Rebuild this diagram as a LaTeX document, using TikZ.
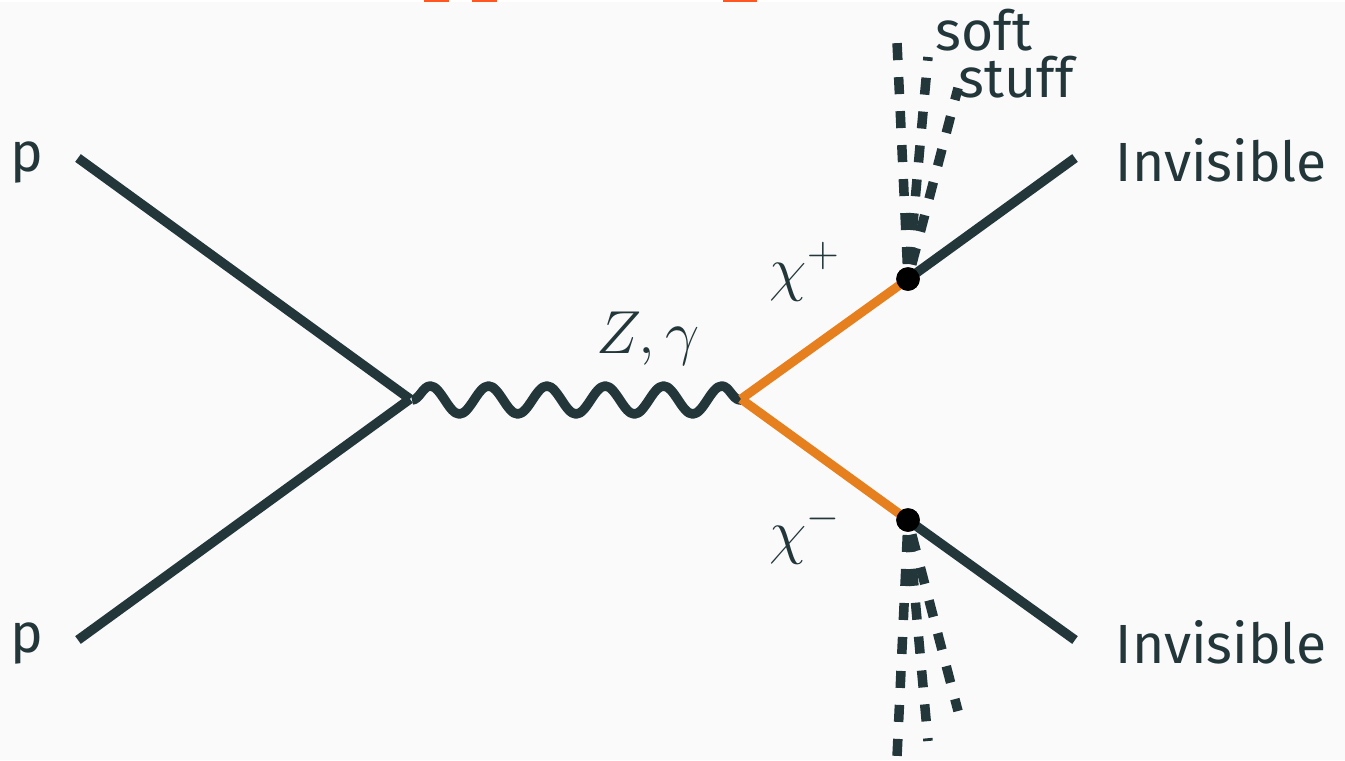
\documentclass[tikz,border=0pt]{standalone}
\usepackage{fontspec}
\setmainfont{Fira Sans}
\usetikzlibrary{decorations.pathmorphing}
\definecolor{darkteal}{HTML}{23373B}
\definecolor{lineorange}{HTML}{E6801F}
\definecolor{pagegrey}{HTML}{FAFAFA}
\definecolor{markred}{HTML}{FF5722}

\begin{document}
\begin{tikzpicture}[
    x=0.01cm, y=-0.01cm,
    % --- STYLES ---
    fermion/.style={draw=darkteal, line width=0.095cm},
    chargino/.style={draw=lineorange, line width=0.09cm},
    boson/.style={draw=darkteal, line width=0.095cm, line join=round,
        decorate, decoration={snake, segment length=0.583cm, amplitude=0.14cm}},
    softline/.style={draw=darkteal, line width=0.095cm,
        dash pattern=on 0.17cm off 0.17cm, dash phase=0.19cm},
    vertexdot/.style={circle, fill=black, minimum size=0.235cm, inner sep=0pt},
    label/.style={text=darkteal, anchor=base west, inner sep=0pt, font=\fontsize{15.7}{19}\selectfont},
    mathlabel/.style={text=darkteal, anchor=base west, inner sep=0pt, font=\fontsize{18.5}{22}\selectfont}
]

% ===== 1. PAGE =====
\fill[pagegrey] (0,0) rectangle (1345,760);
\useasboundingbox (0,0) rectangle (1345,760);
\fill[white] (0,0) rectangle (1345,2);
\fill[markred] (424,0) rectangle (449,2);
\fill[markred] (472,0) rectangle (497,2);
\fill[markred] (723,0) rectangle (757,2);

% ===== 2. COORDINATES =====
\coordinate (inA) at (78,158);
\coordinate (inB) at (78,640);
\coordinate (prod) at (410,399);
\coordinate (waveIn) at (412,400);
\coordinate (waveOut) at (741,400);
\coordinate (decay) at (741,399);
\coordinate (outA) at (1075,158);
\coordinate (outB) at (1075,640);
\node[vertexdot] (chiP) at (908,279) {};
\node[vertexdot] (chiM) at (908,520) {};

\coordinate (softA1) at (897,42);
\coordinate (softA2) at (928,57);
\coordinate (softA3) at (958,88);
\coordinate (softB1) at (897,757);
\coordinate (softB2) at (928,741);
\coordinate (softB3) at (958,711);

% ===== 3. SOFT STUFF =====
\draw[softline] (chiP.center) -- (softA1);
\draw[softline] (chiP.center) -- (softA2);
\draw[softline] (chiP.center) -- (softA3);
\draw[softline] (chiM.center) -- (softB1);
\draw[softline] (chiM.center) -- (softB2);
\draw[softline] (chiM.center) -- (softB3);

% ===== 4. LINES =====
\draw[fermion] (inA) -- (prod);
\draw[fermion] (inB) -- (prod);
\draw[boson] (waveIn) -- (waveOut);
\draw[fermion] (chiP.center) -- (outA);
\draw[fermion] (chiM.center) -- (outB);
\draw[chargino] (decay) -- (chiP.center);
\draw[chargino] (decay) -- (chiM.center);
\node[vertexdot] (dotP) at (chiP) {};
\node[vertexdot] (dotM) at (chiM) {};

% ===== 5. LABELS =====
\node[label] (pA) at (10,171) {p};
\node[label] (pB) at (10,652) {p};
\node[label] (invA) at (1115,181) {Invisible};
\node[label] (invB) at (1115,663) {Invisible};
\node[label] (softT) at (935,50) {soft};
\node[label] (stuffT) at (958,97) {stuff};
\node[mathlabel] (zLabel) at (596,353) {$Z,\gamma$};
\node[mathlabel] (chiLabelP) at (769,289) {$\chi^{+}$};
\node[mathlabel] (chiLabelM) at (769,552) {$\chi^{-}$};

\end{tikzpicture}
\end{document}
